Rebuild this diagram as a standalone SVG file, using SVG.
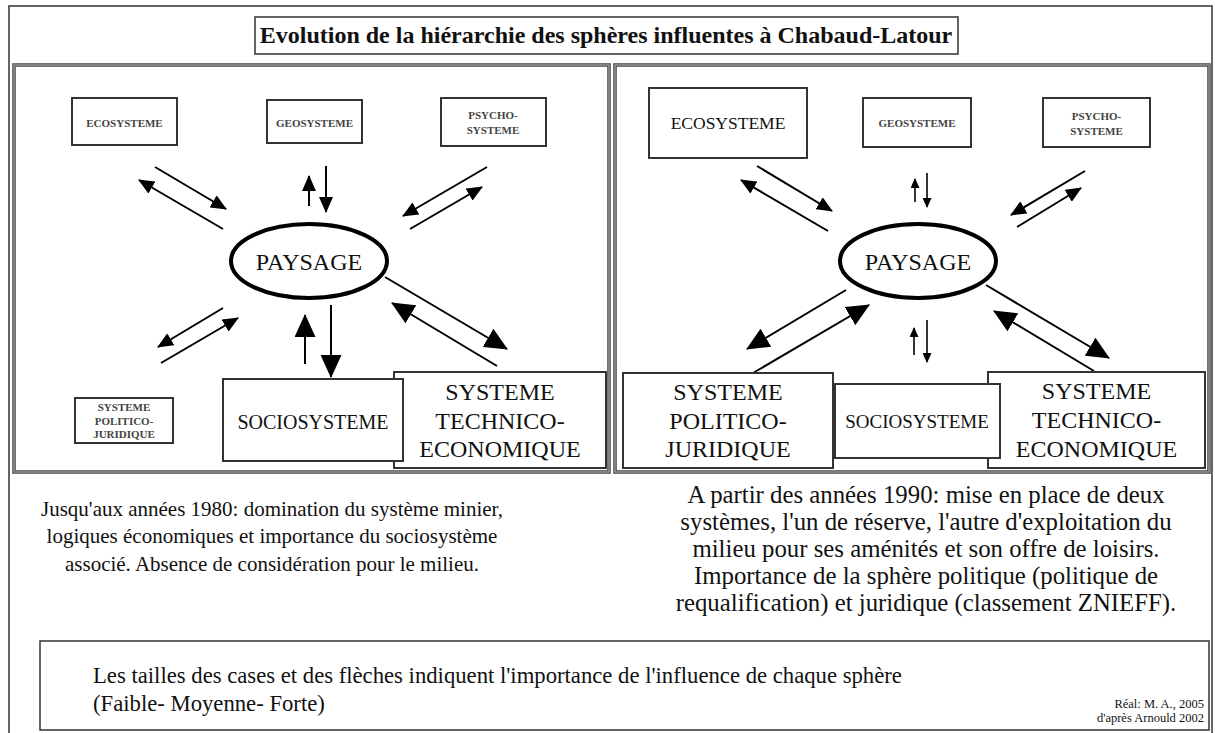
<svg xmlns="http://www.w3.org/2000/svg" width="1215" height="733" viewBox="0 0 1215 733">
<style>
  .bg{fill:#fff}
  .frame{fill:none;stroke:#333;stroke-width:1.5}
  .panel{fill:none;stroke:#444;stroke-width:3.5}
  .panel2{fill:none;stroke:#bbb;stroke-width:1}
  .box{fill:#fff;stroke:#333;stroke-width:2}
  .ell{fill:#fff;stroke:#000;stroke-width:4}
  .t{font-family:"Liberation Serif","Times New Roman",serif;fill:#111}
  .sm{font-size:11px;font-weight:bold;fill:#444}
  .mid{font-size:20px}
  .big{font-size:24px}
  .c{text-anchor:middle}
  .ln{stroke:#000;stroke-width:2;fill:none}
  .lnt{stroke:#000;stroke-width:1.6;fill:none}
  .am{marker-end:url(#hm)}
  .al{marker-end:url(#hl)}
  .as{marker-end:url(#hs)}
</style>
<defs>
  <marker id="hs" markerWidth="10" markerHeight="9" refX="9" refY="4.5" orient="auto" markerUnits="userSpaceOnUse"><path d="M0,0 L10,4.5 L0,9 z" fill="#000"/></marker>
  <marker id="hm" markerWidth="16" markerHeight="14" refX="15" refY="7" orient="auto" markerUnits="userSpaceOnUse"><path d="M0,0 L16,7 L0,14 z" fill="#000"/></marker>
  <marker id="hl" markerWidth="23" markerHeight="21" refX="22" refY="10.5" orient="auto" markerUnits="userSpaceOnUse"><path d="M0,0 L23,10.5 L0,21 z" fill="#000"/></marker>
</defs>
<rect class="bg" x="0" y="0" width="1215" height="733"/>
<rect class="frame" x="9" y="6" width="1203" height="740"/>

<g id="title">
  <rect class="box" x="255" y="17" width="703" height="37" style="stroke-width:1.5"/>
  <text class="t" x="606" y="43" text-anchor="middle" font-size="24" font-weight="bold" fill="#000">Evolution de la hiérarchie des sphères influentes à Chabaud-Latour</text>
</g>

<g id="panel-left">
  <rect class="panel" x="14" y="65" width="595" height="407"/>
  <rect class="panel2" x="14" y="65" width="595" height="407"/>
</g>
<g id="panel-right">
  <rect class="panel" x="615" y="65" width="594" height="407"/>
  <rect class="panel2" x="615" y="65" width="594" height="407"/>
</g>

<g id="connectors">
  <line class="ln am" x1="155" y1="167" x2="226" y2="209"/>
  <line class="ln am" x1="223" y1="229" x2="139" y2="180"/>
  <line class="ln am" x1="309" y1="206" x2="309" y2="176"/>
  <line class="ln am" x1="326" y1="166" x2="326" y2="212"/>
  <line class="ln am" x1="487" y1="167" x2="403" y2="216"/>
  <line class="ln am" x1="410" y1="229" x2="482" y2="187"/>
  <line class="ln am" x1="223" y1="308" x2="158" y2="347"/>
  <line class="ln am" x1="161" y1="363" x2="238" y2="318"/>
  <line class="ln al" x1="305" y1="364" x2="305" y2="315"/>
  <line class="ln al" x1="331" y1="305" x2="331" y2="377"/>
  <line class="ln al" x1="385" y1="277" x2="507" y2="349"/>
  <line class="ln al" x1="497" y1="366" x2="392" y2="303"/>
  <line class="ln am" x1="757" y1="166" x2="832" y2="211"/>
  <line class="ln am" x1="828" y1="231" x2="741" y2="180"/>
  <line class="lnt as" x1="915" y1="202" x2="915" y2="179"/>
  <line class="lnt as" x1="927" y1="173" x2="927" y2="207"/>
  <line class="ln am" x1="1085" y1="171" x2="1011" y2="215"/>
  <line class="ln am" x1="1017" y1="227" x2="1081" y2="188"/>
  <line class="ln al" x1="846" y1="290" x2="747" y2="349"/>
  <line class="ln al" x1="753" y1="373" x2="869" y2="305"/>
  <line class="lnt as" x1="914" y1="355" x2="914" y2="328"/>
  <line class="lnt as" x1="927" y1="320" x2="927" y2="362"/>
  <line class="ln al" x1="986" y1="285" x2="1109" y2="358"/>
  <line class="ln al" x1="1094" y1="371" x2="994" y2="311"/>
</g>

<g id="l-eco">
  <rect class="box" x="72" y="98" width="105" height="47"/>
  <text class="t sm c" x="124.5" y="127">ECOSYSTEME</text>
</g>
<g id="l-geo">
  <rect class="box" x="267" y="100" width="95" height="43"/>
  <text class="t sm c" x="314.5" y="127">GEOSYSTEME</text>
</g>
<g id="l-psycho">
  <rect class="box" x="441" y="98" width="105" height="48"/>
  <text class="t sm c" x="493" y="119">PSYCHO-</text>
  <text class="t sm c" x="493" y="134">SYSTEME</text>
</g>
<g id="l-paysage">
  <ellipse class="ell" cx="309" cy="261" rx="78" ry="37"/>
  <text class="t big c" x="309" y="270">PAYSAGE</text>
</g>
<g id="l-politico">
  <rect class="box" x="75" y="398" width="98" height="45"/>
  <text class="t sm c" x="124" y="411">SYSTEME</text>
  <text class="t sm c" x="124" y="425">POLITICO-</text>
  <text class="t sm c" x="124" y="438">JURIDIQUE</text>
</g>
<g id="l-technico">
  <rect class="box" x="394" y="372" width="212" height="96"/>
  <text class="t big c" x="500" y="400">SYSTEME</text>
  <text class="t big c" x="500" y="429">TECHNICO-</text>
  <text class="t big c" x="500" y="457">ECONOMIQUE</text>
</g>
<g id="l-socio">
  <rect class="box" x="223" y="379" width="180" height="82"/>
  <text class="t mid c" x="313" y="429">SOCIOSYSTEME</text>
</g>

<g id="r-eco">
  <rect class="box" x="649" y="88" width="158" height="70"/>
  <text class="t c" x="728" y="129" font-size="17.5">ECOSYSTEME</text>
</g>
<g id="r-geo">
  <rect class="box" x="863" y="98" width="108" height="49"/>
  <text class="t sm c" x="917" y="127">GEOSYSTEME</text>
</g>
<g id="r-psycho">
  <rect class="box" x="1043" y="98" width="107" height="49"/>
  <text class="t sm c" x="1096.5" y="120">PSYCHO-</text>
  <text class="t sm c" x="1096.5" y="135">SYSTEME</text>
</g>
<g id="r-paysage">
  <ellipse class="ell" cx="918" cy="261" rx="78" ry="37"/>
  <text class="t big c" x="918" y="270">PAYSAGE</text>
</g>
<g id="r-politico">
  <rect class="box" x="623" y="373" width="210" height="95"/>
  <text class="t big c" x="728" y="400">SYSTEME</text>
  <text class="t big c" x="728" y="429">POLITICO-</text>
  <text class="t big c" x="728" y="457">JURIDIQUE</text>
</g>
<g id="r-technico">
  <rect class="box" x="988" y="372" width="217" height="96"/>
  <text class="t big c" x="1096.5" y="399">SYSTEME</text>
  <text class="t big c" x="1096.5" y="428">TECHNICO-</text>
  <text class="t big c" x="1096.5" y="457">ECONOMIQUE</text>
</g>
<g id="r-socio">
  <rect class="box" x="835" y="384" width="165" height="74"/>
  <text class="t c" x="917" y="428" font-size="19">SOCIOSYSTEME</text>
</g>

<g id="caption-left" font-size="21">
  <text class="t c" x="272" y="516">Jusqu'aux années 1980: domination du système minier,</text>
  <text class="t c" x="272" y="543">logiques économiques et importance du sociosystème</text>
  <text class="t c" x="272" y="571">associé. Absence de considération pour le milieu.</text>
</g>
<g id="caption-right" font-size="24.8">
  <text class="t c" x="926" y="503">A partir des années 1990: mise en place de deux</text>
  <text class="t c" x="926" y="530">systèmes, l'un de réserve, l'autre d'exploitation du</text>
  <text class="t c" x="926" y="557">milieu pour ses aménités et son offre de loisirs.</text>
  <text class="t c" x="926" y="584">Importance de la sphère politique (politique de</text>
  <text class="t c" x="926" y="611">requalification) et juridique (classement ZNIEFF).</text>
</g>
<g id="legend">
  <rect class="box" x="40" y="641" width="1169" height="89" style="stroke-width:1.5"/>
  <text class="t" x="93" y="683" font-size="22.7">Les tailles des cases et des flèches indiquent l'importance de l'influence de chaque sphère</text>
  <text class="t" x="93" y="711" font-size="22.7">(Faible- Moyenne- Forte)</text>
  <text class="t" x="1204" y="708" font-size="12.5" text-anchor="end">Réal: M. A., 2005</text>
  <text class="t" x="1204" y="722" font-size="12.5" text-anchor="end">d'après Arnould 2002</text>
</g>
</svg>
